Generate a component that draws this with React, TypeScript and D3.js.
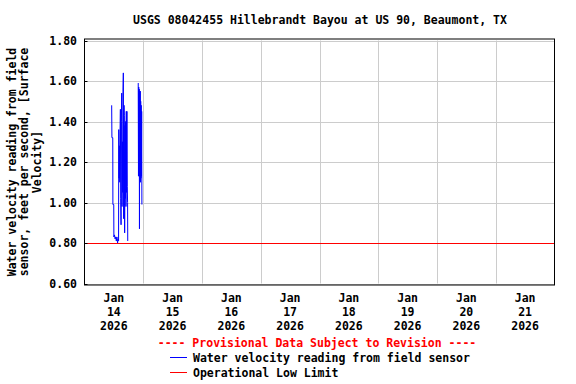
import * as d3 from 'd3'

// readings on Jan 14 2026, local time ; null = gap in record
const readingTimes = [
  '11:06', '11:12', '11:33', '11:36', '11:57', '12:00', '12:15', '12:30', '12:45', '13:00',
  '13:15', '13:30', '13:45', '13:55', '14:00', '14:08', '14:16', '14:24', '14:32', '14:40',
  '14:48', '14:56', '15:04', '15:12', '15:20', '15:28', '15:36', '15:44', '15:52', '16:00',
  '16:08', '16:16', '16:24', '16:32', '16:40', '16:48', '16:56', '17:04', '17:12', '17:20',
  '17:28', '17:36', '17:40', '19:00',
  '21:57', '22:03', '22:09', '22:15', '22:21', '22:27', '22:33', '22:39', '22:45', '22:51',
  '22:57', '23:03', '23:09', '23:15', '23:21', '23:27',
]
const readingValues: (number | null)[] = [
  1.48, 1.32, 1.32, 0.99, 0.99, 0.83, 0.84, 0.82, 0.83, 0.81,
  0.83, 0.80, 0.82, 0.81, 1.36, 1.12, 1.28, 1.10, 1.35, 1.46,
  1.02, 0.89, 1.40, 1.54, 0.98, 1.30, 1.05, 1.55, 1.64, 0.92,
  1.48, 1.43, 0.85, 1.38, 1.02, 1.40, 0.98, 1.45, 1.05, 1.45,
  1.08, 1.00, 0.81, null,
  1.59, 1.13, 1.57, 1.18, 1.56, 0.87, 1.55, 1.12, 1.55, 1.10,
  1.50, 1.12, 1.48, 1.13, 1.45, 0.99,
]

const lowLimit = 0.8
const yTicks = [0.6, 0.8, 1.0, 1.2, 1.4, 1.6, 1.8]
const dayLabels = ['14', '15', '16', '17', '18', '19', '20', '21']

const title = 'USGS 08042455 Hillebrandt Bayou at US 90, Beaumont, TX'
const yTitle = ['Water velocity reading from field', 'sensor, feet per second, [Surface', 'Velocity]']

const font = '"DejaVu Sans Mono", monospace'

export default function App() {
  const width = 576, height = 384
  const left = 84.5, right = 554.5, top = 40.5, bottom = 283.5

  const start = new Date(2026, 0, 14)
  const end = new Date(2026, 0, 22)

  const x = d3.scaleTime().domain([start, end]).range([left, right])
  const y = d3.scaleLinear().domain([0.6, 1.8]).range([bottom, top])

  const data = readingTimes.map((t, i) => {
    const [hh, mm] = t.split(':').map(Number)
    return { date: new Date(2026, 0, 14, hh, mm), value: readingValues[i] }
  })

  const line = d3.line<{ date: Date; value: number | null }>()
    .defined(d => d.value !== null)
    .x(d => x(d.date))
    .y(d => y(d.value as number))

  const days = d3.timeDay.range(start, end)
  const gridDays = d3.timeDay.range(d3.timeDay.offset(start, 1), end)

  return (
    <svg width={width} height={height} style={{ position: 'absolute', left: 0, top: 0, background: '#fff' }}
      fontFamily={font} fontWeight="bold" fontSize={11.5}>
      <text x={320} y={24} textAnchor="middle">{title}</text>

      {yTicks.map(t => (
        <line key={'h' + t} x1={left} x2={right} y1={Math.round(y(t)) + 0.5} y2={Math.round(y(t)) + 0.5} stroke="#cccccc" />
      ))}
      {gridDays.map(d => (
        <line key={'v' + d.getTime()} x1={Math.round(x(d)) + 0.5} x2={Math.round(x(d)) + 0.5} y1={top} y2={bottom} stroke="#cccccc" />
      ))}

      <line x1={left} x2={right} y1={Math.round(y(lowLimit)) + 0.5} y2={Math.round(y(lowLimit)) + 0.5} stroke="#ff0000" />
      <path d={line(data) ?? ''} fill="none" stroke="#0000ff" strokeWidth={1} />

      <rect x={left} y={top - 1.5} width={right - left} height={bottom - top + 3} fill="none" stroke="#000" />
      {yTicks.map(t => (
        <g key={'t' + t}>
          <line x1={left} x2={left + 3} y1={Math.round(y(t)) + 0.5} y2={Math.round(y(t)) + 0.5} stroke="#000" />
          <text x={77} y={y(t)} dy="0.35em" textAnchor="end">{t.toFixed(2)}</text>
        </g>
      ))}

      {days.map((d, i) => {
        const cx = x(d3.timeHour.offset(d, 12))
        return (
          <text key={'d' + i} x={cx} textAnchor="middle">
            <tspan x={cx} y={302}>Jan</tspan>
            <tspan x={cx} y={316}>{dayLabels[i]}</tspan>
            <tspan x={cx} y={330}>2026</tspan>
          </text>
        )
      })}

      <text transform={`translate(0,${(top + bottom) / 2}) rotate(-90)`} textAnchor="middle">
        {yTitle.map((s, i) => (
          <tspan key={i} x={0} y={16 + i * 12.3}>{s}</tspan>
        ))}
      </text>

      <text x={317} y={346.5} textAnchor="middle" fill="#ff0000">---- Provisional Data Subject to Revision ----</text>
      <line x1={170} x2={187} y1={357.5} y2={357.5} stroke="#0000ff" />
      <text x={193} y={361.5}>Water velocity reading from field sensor</text>
      <line x1={170} x2={187} y1={372.5} y2={372.5} stroke="#ff0000" />
      <text x={193} y={376.5}>Operational Low Limit</text>
    </svg>
  )
}
